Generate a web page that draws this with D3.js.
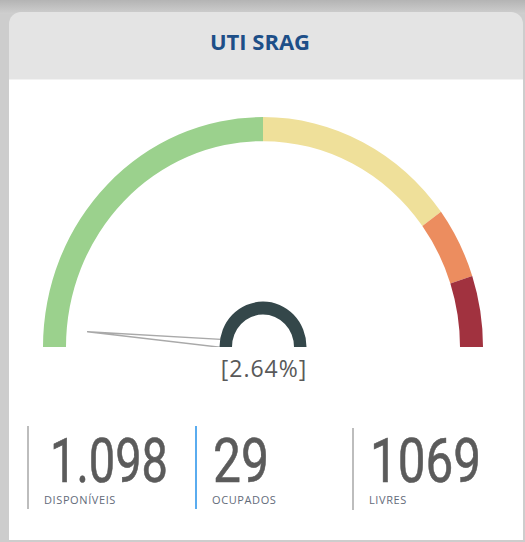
<!DOCTYPE html>
<html>
<head>
<meta charset="utf-8">
<script src="https://cdn.jsdelivr.net/npm/d3@7"></script>
<style>
  html, body { margin: 0; padding: 0; background: #cdcdcd; }
  svg { display: block; }
</style>
</head>
<body>
<div id="chart"></div>
<script>
"use strict";

// data
const title = "UTI SRAG";
const gaugeValue = 2.64;               // percent occupied
const bandStops = [0, 50, 80, 90, 100]; // gauge bands, percent
const bandColors = ["#9bd18d", "#efe09a", "#ec8d5f", "#a1323f"];
const statLabels = ["DISPONÍVEIS", "OCUPADOS", "LIVRES"];
const statValues = ["1.098", "29", "1069"];

// canvas
let width = 525, height = 542;
let svg = d3.select("#chart")
    .append("svg")
    .attr("width", width)
    .attr("height", height);

let defs = svg.append("defs");
let grad = defs.append("linearGradient")
    .attr("id", "topShade")
    .attr("x1", 0).attr("y1", 0).attr("x2", 0).attr("y2", 1);
grad.append("stop").attr("offset", "0%").attr("stop-color", "#b4b4b4");
grad.append("stop").attr("offset", "100%").attr("stop-color", "#cfcfcf");

// page background
svg.append("rect")
    .attr("width", width).attr("height", height)
    .attr("fill", "#cdcdcd");
svg.append("rect")
    .attr("width", width).attr("height", 14)
    .attr("fill", "url(#topShade)");

// card
let card = {x: 9, y: 12, w: 514, h: 528, header: 67};
svg.append("rect")
    .attr("x", card.x).attr("y", card.y)
    .attr("width", card.w).attr("height", card.h)
    .attr("rx", 12)
    .attr("fill", "#e4e4e4");
svg.append("rect")
    .attr("x", card.x).attr("y", card.y + card.header)
    .attr("width", card.w).attr("height", card.h - card.header)
    .attr("fill", "#ffffff");
svg.append("line")
    .attr("x1", card.x).attr("x2", card.x + card.w)
    .attr("y1", card.y + card.header + 0.5).attr("y2", card.y + card.header + 0.5)
    .attr("stroke", "#f2f2f2");

// Title
svg.append("text")
    .attr("x", 260)
    .attr("y", 50)
    .attr("text-anchor", "middle")
    .attr("font-family", "'Open Sans', sans-serif")
    .attr("font-weight", 700)
    .attr("font-size", 22)
    .attr("fill", "#1d4f88")
    .text(title);

// Gauge
let cx = 263, cy = 347;
let outerRadius = 220, innerRadius = 197;
let angle = d3.scaleLinear().domain([0, 100]).range([-Math.PI / 2, Math.PI / 2]);

let gauge = svg.append("g")
    .attr("transform", "translate(" + cx + "," + cy + ") scale(1,1.045)");

let arc = d3.arc()
    .innerRadius(innerRadius)
    .outerRadius(outerRadius);

let bands = d3.range(bandColors.length).map(function (i) {
    return {start: bandStops[i], end: bandStops[i + 1], color: bandColors[i]};
});

gauge.append("g")
    .attr("class", "gauge-bands")
    .selectAll("path")
    .data(bands)
    .enter().append("path")
    .attr("d", function (d) {
        return arc({startAngle: angle(d.start), endAngle: angle(d.end)});
    })
    .attr("fill", function (d) { return d.color; });

// Needle (clipped so nothing shows under the center line)
defs.append("clipPath").attr("id", "needleClip")
    .append("rect")
    .attr("x", -300).attr("y", -300)
    .attr("width", 600).attr("height", 300);

let needleLen = 176, needleHalf = 5;
let a = angle(gaugeValue);                 // 0 = up, clockwise
let dir = [Math.sin(a), -Math.cos(a)];
let perp = [-dir[1], dir[0]];
let tip = [dir[0] * needleLen, dir[1] * needleLen];
let needlePts = [
    tip,
    [perp[0] * needleHalf, perp[1] * needleHalf],
    [-perp[0] * needleHalf, -perp[1] * needleHalf]
];
gauge.append("path")
    .attr("clip-path", "url(#needleClip)")
    .attr("d", d3.line()(needlePts) + "Z")
    .attr("fill", "#ffffff")
    .attr("stroke", "#a9a9a9")
    .attr("stroke-width", 1.4)
    .attr("stroke-linejoin", "round");

// Hub
let hubOuter = 43.5, hubInner = 31;
gauge.append("path")
    .attr("d", d3.arc().innerRadius(0).outerRadius(hubOuter)({startAngle: -Math.PI / 2, endAngle: Math.PI / 2}))
    .attr("fill", "#ffffff");
gauge.append("path")
    .attr("d", d3.arc().innerRadius(hubInner).outerRadius(hubOuter)({startAngle: -Math.PI / 2, endAngle: Math.PI / 2}))
    .attr("fill", "#34474a");

// Value label
svg.append("text")
    .attr("x", cx + 1)
    .attr("y", 377)
    .attr("text-anchor", "middle")
    .attr("font-family", "'Open Sans', sans-serif")
    .attr("font-size", 23)
    .attr("letter-spacing", 1)
    .attr("fill", "#595959")
    .text("[" + gaugeValue.toFixed(2) + "%]");

// Stats
let statX = [28, 196, 353];
let statLineColor = ["#bdbdbd", "#5aacef", "#bdbdbd"];
let numWidth = [118, 56, 111];

let stats = svg.append("g")
    .attr("class", "stats")
    .selectAll("g")
    .data(statLabels.map(function (l, i) {
        return {label: l, value: statValues[i], i: i};
    }))
    .enter().append("g")
    .attr("transform", function (d) {
        return "translate(" + statX[d.i] + ",0)";
    });

stats.append("line")
    .attr("x1", 0).attr("x2", 0)
    .attr("y1", function (d) { return d.i === 2 ? 428 : 426; })
    .attr("y2", function (d) { return d.i === 2 ? 510 : 509; })
    .attr("stroke", function (d) { return statLineColor[d.i]; })
    .attr("stroke-width", 2);

stats.append("text")
    .attr("x", function (d) { return d.i === 0 ? 22 : 17; })
    .attr("y", 482)
    .attr("font-family", "Roboto, sans-serif")
    .attr("font-weight", 400)
    .attr("font-size", 61)
    .attr("fill", "#5b5b5b")
    .attr("stroke", "#5b5b5b")
    .attr("stroke-width", 0.6)
    .attr("textLength", function (d) { return numWidth[d.i]; })
    .attr("lengthAdjust", "spacingAndGlyphs")
    .text(function (d) { return d.value; });

stats.append("text")
    .attr("x", 16)
    .attr("y", 504)
    .attr("font-family", "'Open Sans', sans-serif")
    .attr("font-size", 11)
    .attr("letter-spacing", 0.6)
    .attr("fill", "#636b7a")
    .text(function (d) { return d.label; });
</script>
</body>
</html>
